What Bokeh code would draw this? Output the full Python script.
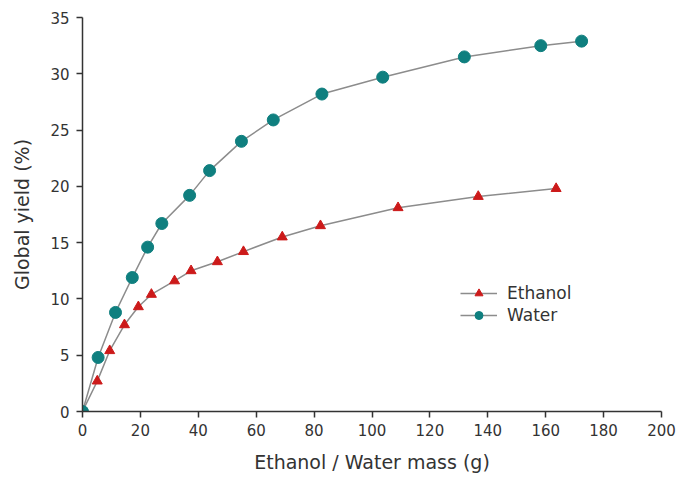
from bokeh.plotting import figure
from bokeh.models import Legend, LegendItem, Range1d, FixedTicker
from bokeh.embed import file_html
from bokeh.resources import INLINE

water_x = [0, 5.4, 11.4, 17.2, 22.5, 27.4, 37.0, 43.9, 54.9, 65.9, 82.7, 103.7, 131.9, 158.3, 172.4]
water_y = [0, 4.8, 8.8, 11.9, 14.6, 16.7, 19.2, 21.4, 24.0, 25.9, 28.2, 29.7, 31.5, 32.5, 32.9]
eth_x = [0, 5.1, 9.4, 14.5, 19.3, 23.8, 31.8, 37.5, 46.6, 55.6, 69.0, 82.2, 109.0, 136.7, 163.6]
eth_y = [0, 2.7, 5.4, 7.7, 9.3, 10.4, 11.6, 12.5, 13.3, 14.2, 15.5, 16.5, 18.1, 19.1, 19.8]
x_ticks = [0, 20, 40, 60, 80, 100, 120, 140, 160, 180, 200]
y_ticks = [0, 5, 10, 15, 20, 25, 30, 35]

FONT = "DejaVu Sans"
p = figure(width=676, height=478, output_backend="svg", toolbar_location=None,
           x_range=Range1d(0, 200), y_range=Range1d(0, 35),
           min_border_left=82, min_border_right=15, min_border_top=17, min_border_bottom=67)
p.outline_line_color = None
p.xgrid.visible = False
p.ygrid.visible = False
p.background_fill_color = "white"

le = p.line(eth_x, eth_y, line_color="#8c8c8c", line_width=1.5)
se = p.scatter(eth_x, eth_y, marker="triangle", size=10, fill_color="#cc1a1a", line_color="#cc1a1a")
lw = p.line(water_x, water_y, line_color="#8c8c8c", line_width=1.5)
sw = p.scatter(water_x, water_y, marker="circle", size=12, fill_color="#0f7f7f", line_color="#0f7f7f")

for ax in (p.xaxis[0], p.yaxis[0]):
    ax.axis_line_color = "#333333"
    ax.axis_line_width = 1.5
    ax.major_tick_line_color = "#333333"
    ax.major_tick_line_width = 1.5
    ax.major_tick_out = 6
    ax.major_tick_in = 0
    ax.minor_tick_line_color = None
    ax.major_label_text_font = FONT
    ax.major_label_text_font_size = "15px"
    ax.major_label_text_color = "#333333"
    ax.axis_label_text_font = FONT
    ax.axis_label_text_font_size = "19px"
    ax.axis_label_text_font_style = "normal"
    ax.axis_label_text_color = "#333333"

p.xaxis.ticker = FixedTicker(ticks=x_ticks)
p.yaxis.ticker = FixedTicker(ticks=y_ticks)
p.xaxis.axis_label = "Ethanol / Water mass (g)"
p.yaxis.axis_label = "Global yield (%)"
p.xaxis.major_label_standoff = 6
p.yaxis.major_label_standoff = 7
p.xaxis.axis_label_standoff = 12
p.yaxis.axis_label_standoff = 14

legend = Legend(items=[LegendItem(label="Ethanol", renderers=[le, se]),
                       LegendItem(label="Water", renderers=[lw, sw])],
                location=(378, 86))
legend.border_line_color = None
legend.background_fill_alpha = 0
legend.label_text_font = FONT
legend.label_text_font_size = "17px"
legend.label_text_color = "#333333"
legend.glyph_width = 37
legend.glyph_height = 20
legend.spacing = 2
legend.padding = 0
legend.margin = 0
legend.label_standoff = 10
p.add_layout(legend, "center")

open("out.html", "w").write(file_html(p, INLINE))
